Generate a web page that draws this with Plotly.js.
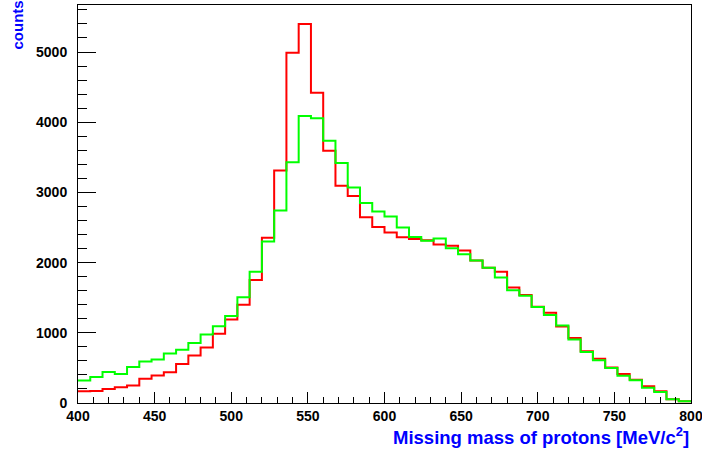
<!DOCTYPE html>
<html>
<head>
<meta charset="utf-8">
<script src="https://cdn.plot.ly/plotly-3.0.1.min.js"></script>
<style>html,body{margin:0;padding:0;background:#fff;}#chart{width:702px;height:450px;}</style>
</head>
<body>
<div id="chart"></div>
<script>
// Histogram: 50 bins of 8 MeV/c^2 from 400 to 800
var binLow = 400;
var binWidth = 8;
var redCounts = [168, 170, 200, 225, 249, 344, 391, 438, 557, 676,
                 792, 985, 1188, 1401, 1752, 2355, 3312, 4990, 5398, 4421,
                 3594, 3096, 2950, 2646, 2506, 2428, 2362, 2338, 2320, 2258,
                 2240, 2172, 2031, 1928, 1871, 1647, 1538, 1370, 1287, 1090,
                 925, 738, 629, 505, 412, 330, 239, 169, 55, 24];
var greenCounts = [320, 370, 441, 412, 514, 590, 621, 704, 757, 853,
                   976, 1095, 1240, 1505, 1871, 2302, 2743, 3431, 4090, 4057,
                   3736, 3419, 3070, 2848, 2728, 2657, 2501, 2366, 2312, 2345,
                   2205, 2120, 2031, 1928, 1788, 1605, 1529, 1368, 1252, 1105,
                   905, 725, 609, 498, 389, 325, 218, 157, 52, 24];
var xTitle = 'Missing mass of protons [MeV/c<sup>2</sup>]';
var yTitle = 'counts';

function stepTrace(counts, color) {
  var xs = [], ys = [];
  for (var i = 0; i < counts.length; i++) {
    xs.push(binLow + i * binWidth);
    ys.push(counts[i]);
  }
  xs.push(binLow + counts.length * binWidth);
  ys.push(counts[counts.length - 1]);
  return {x: xs, y: ys, type: 'scatter', mode: 'lines',
          line: {shape: 'hv', color: color, width: 2}, hoverinfo: 'skip'};
}

var FONT = '"Liberation Sans", Arial, Helvetica, sans-serif';
var data = [stepTrace(redCounts, '#ff0000'), stepTrace(greenCounts, '#00ff00')];
var layout = {
  width: 702, height: 450,
  margin: {l: 78, r: 11, t: 5, b: 47, pad: 0},
  paper_bgcolor: '#ffffff', plot_bgcolor: '#ffffff',
  showlegend: false,
  xaxis: {
    range: [400, 800], showgrid: false, zeroline: false,
    showline: true, mirror: true, linecolor: '#000', linewidth: 1,
    ticks: 'inside', ticklen: 11, tickcolor: '#000', tickwidth: 1,
    tick0: 400, dtick: 50,
    minor: {ticks: 'inside', ticklen: 6, dtick: 10, tickcolor: '#000', tickwidth: 1, showgrid: false},
    tickfont: {family: FONT, size: 14, color: '#000', weight: 'bold'},
    ticklabelstandoff: 0,
    ticklabeloverflow: 'allow'
  },
  yaxis: {
    range: [0, 5670], showgrid: false, zeroline: false,
    showline: true, mirror: true, linecolor: '#000', linewidth: 1,
    ticks: 'inside', ticklen: 18, tickcolor: '#000', tickwidth: 1,
    tick0: 0, dtick: 1000,
    minor: {ticks: 'inside', ticklen: 9, dtick: 200, tickcolor: '#000', tickwidth: 1, showgrid: false},
    tickfont: {family: FONT, size: 14, color: '#000', weight: 'bold'},
    ticklabelstandoff: 7,
    ticklabeloverflow: 'allow'
  },
  annotations: [
    {text: xTitle, xref: 'paper', yref: 'paper', x: 1, y: 0, yshift: -33,
     xanchor: 'right', yanchor: 'middle', showarrow: false,
     font: {family: FONT, size: 18.5, color: '#0000ff', weight: 'bold'}},
    {text: yTitle, xref: 'paper', yref: 'paper', x: 0, y: 1, xshift: -61, yshift: 6,
     xanchor: 'center', yanchor: 'top', textangle: -90, showarrow: false,
     font: {family: FONT, size: 15, color: '#0000ff', weight: 'bold'}}
  ]
};
Plotly.newPlot('chart', data, layout, {displayModeBar: false, staticPlot: true});
</script>
</body>
</html>
